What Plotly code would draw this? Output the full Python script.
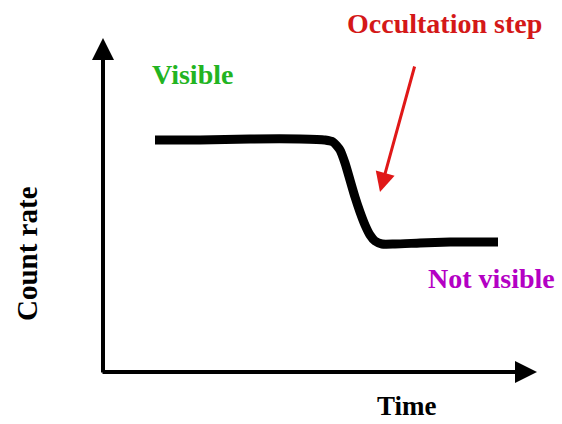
import plotly.graph_objects as go

# Schematic light curve (time, count rate) in arbitrary units
time = [52, 97, 147, 197, 222, 230, 237, 242, 247, 252, 257, 262, 267, 272, 279, 292, 317, 347, 372, 395]
count_rate = [232, 232, 233, 233, 232, 230, 222, 209, 192, 175, 160, 147, 137, 131, 128, 128, 129, 130, 130, 130]

labels = ["Visible", "Occultation step", "Not visible"]
label_x = [89, 341, 388]
label_y = [298, 349, 94]
label_colors = ["#22b422", "#d41818", "#b400c4"]

axis_x_end = 434
axis_y_end = 334
step_arrow_tail = (312, 307)
step_arrow_tip = (277, 180)

FONT = "Times New Roman, Liberation Serif, serif"

fig = go.Figure()
fig.add_trace(go.Scatter(
    x=time, y=count_rate, mode="lines",
    line=dict(color="black", width=9, shape="spline", smoothing=0.6),
    hoverinfo="skip", showlegend=False,
))

ann = []
# axes arrows
ann.append(dict(x=0, y=axis_y_end, ax=0, ay=-2, xref="x", yref="y", axref="x", ayref="y",
                text="", showarrow=True, arrowhead=2, arrowsize=1.1, arrowwidth=4, arrowcolor="black", standoff=0))
ann.append(dict(x=axis_x_end, y=0, ax=-2, ay=0, xref="x", yref="y", axref="x", ayref="y",
                text="", showarrow=True, arrowhead=2, arrowsize=1.1, arrowwidth=4, arrowcolor="black", standoff=0))
# occultation arrow
ann.append(dict(x=step_arrow_tip[0], y=step_arrow_tip[1], ax=step_arrow_tail[0], ay=step_arrow_tail[1],
                xref="x", yref="y", axref="x", ayref="y",
                text="", showarrow=True, arrowhead=2, arrowsize=1.3, arrowwidth=3, arrowcolor="#e01818", standoff=0))

for t, x, y, c in zip(labels, label_x, label_y, label_colors):
    ann.append(dict(x=x, y=y, xref="x", yref="y", text="<b>%s</b>" % t, showarrow=False,
                    font=dict(family=FONT, size=28, color=c), xanchor="center", yanchor="middle"))

ann.append(dict(x=304, y=-34, xref="x", yref="y", text="<b>Time</b>", showarrow=False,
                font=dict(family=FONT, size=27, color="black"), xanchor="center", yanchor="middle"))
ann.append(dict(x=-76, y=118, xref="x", yref="y", text="<b>Count rate</b>", showarrow=False, textangle=-90,
                font=dict(family=FONT, size=29, color="black"), xanchor="center", yanchor="middle"))

fig.update_layout(
    width=562, height=424,
    margin=dict(l=0, r=0, t=0, b=0),
    paper_bgcolor="white", plot_bgcolor="white",
    xaxis=dict(range=[-103, 459], visible=False, fixedrange=True),
    yaxis=dict(range=[-52, 372], visible=False, fixedrange=True),
    annotations=ann,
    showlegend=False,
)

fig.write_html("out.html", config={"displayModeBar": False},
               post_script="document.body.style.margin='0';document.body.style.overflow='hidden';")
